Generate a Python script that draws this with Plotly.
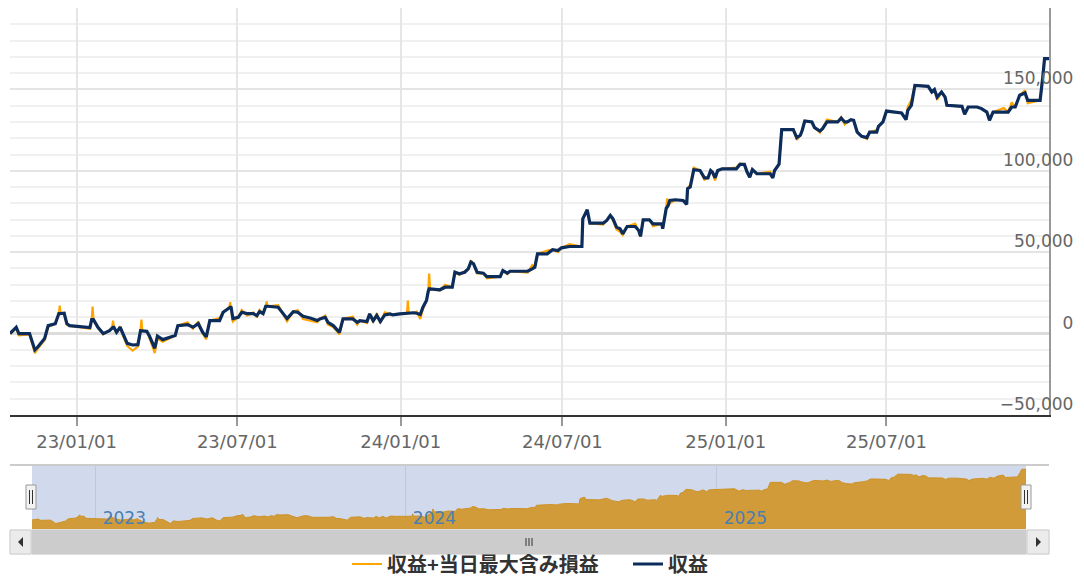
import plotly.graph_objects as go

# The page body adds an 8px margin; the figure is sized so that it fills the window exactly.
OFF = 8
W, H = 1084 - OFF, 578 - OFF

dates = [
    "2022-10-18", "2022-10-25", "2022-10-28", "2022-11-09", "2022-11-15", "2022-11-18", "2022-11-26", "2022-11-30",
    "2022-12-08", "2022-12-12", "2022-12-13", "2022-12-14", "2022-12-18", "2022-12-21", "2022-12-24", "2023-01-16",
    "2023-01-18", "2023-01-19", "2023-01-20", "2023-01-25", "2023-01-31", "2023-02-07", "2023-02-10", "2023-02-11",
    "2023-02-12", "2023-02-15", "2023-02-19", "2023-02-22", "2023-02-27", "2023-03-05", "2023-03-11", "2023-03-14",
    "2023-03-15", "2023-03-16", "2023-03-21", "2023-03-24", "2023-03-30", "2023-04-02", "2023-04-08", "2023-04-16",
    "2023-04-22", "2023-04-25", "2023-05-06", "2023-05-12", "2023-05-18", "2023-05-23", "2023-05-27", "2023-05-31",
    "2023-06-11", "2023-06-15", "2023-06-22", "2023-06-23", "2023-06-24", "2023-06-26", "2023-07-02", "2023-07-06",
    "2023-07-12", "2023-07-19", "2023-07-23", "2023-07-26", "2023-07-30", "2023-08-02", "2023-08-03", "2023-08-04",
    "2023-08-16", "2023-08-20", "2023-08-26", "2023-09-02", "2023-09-07", "2023-09-13", "2023-09-21", "2023-09-29",
    "2023-10-02", "2023-10-08", "2023-10-11", "2023-10-17", "2023-10-24", "2023-10-28", "2023-11-08", "2023-11-13",
    "2023-11-16", "2023-11-24", "2023-11-27", "2023-12-01", "2023-12-05", "2023-12-09", "2023-12-14", "2023-12-20",
    "2023-12-23", "2023-12-31", "2024-01-08", "2024-01-09", "2024-01-10", "2024-01-15", "2024-01-19", "2024-01-23",
    "2024-01-26", "2024-01-30", "2024-02-01", "2024-02-02", "2024-02-03", "2024-02-14", "2024-02-20", "2024-02-28",
    "2024-03-02", "2024-03-07", "2024-03-13", "2024-03-17", "2024-03-20", "2024-03-23", "2024-03-27", "2024-04-03",
    "2024-04-07", "2024-04-22", "2024-04-25", "2024-04-30", "2024-05-03", "2024-05-23", "2024-05-28", "2024-05-31",
    "2024-06-03", "2024-06-14", "2024-06-20", "2024-06-26", "2024-06-30", "2024-07-09", "2024-07-23", "2024-07-24",
    "2024-07-29", "2024-08-01", "2024-08-16", "2024-08-20", "2024-08-24", "2024-08-27", "2024-08-31", "2024-09-04",
    "2024-09-07", "2024-09-12", "2024-09-21", "2024-09-25", "2024-09-27", "2024-09-30", "2024-10-07", "2024-10-11",
    "2024-10-21", "2024-10-22", "2024-10-26", "2024-10-27", "2024-10-28", "2024-10-30", "2024-11-05", "2024-11-14",
    "2024-11-18", "2024-11-19",
    "2024-11-22", "2024-11-26", "2024-12-03", "2024-12-08", "2024-12-12", "2024-12-15", "2024-12-17", "2024-12-20",
    "2024-12-23", "2024-12-28", "2025-01-13", "2025-01-17", "2025-01-22", "2025-01-25", "2025-01-28", "2025-01-31",
    "2025-02-05", "2025-02-20", "2025-02-23", "2025-02-25", "2025-03-02", "2025-03-05", "2025-03-18", "2025-03-22",
    "2025-03-26", "2025-03-28", "2025-03-31", "2025-04-08", "2025-04-11", "2025-04-17", "2025-04-20", "2025-04-25",
    "2025-05-07", "2025-05-11", "2025-05-15", "2025-05-18", "2025-05-22", "2025-05-25", "2025-05-29", "2025-06-03",
    "2025-06-09", "2025-06-12", "2025-06-20", "2025-06-22", "2025-06-27", "2025-07-01", "2025-07-10", "2025-07-18",
    "2025-07-23", "2025-07-25", "2025-07-29", "2025-08-02", "2025-08-17", "2025-08-21", "2025-08-24", "2025-08-27",
    "2025-09-01", "2025-09-05", "2025-09-07", "2025-09-24", "2025-09-27", "2025-10-01", "2025-10-11", "2025-10-16",
    "2025-10-22", "2025-10-25", "2025-10-29", "2025-11-10", "2025-11-15", "2025-11-19", "2025-11-23", "2025-11-28",
    "2025-12-04", "2025-12-07", "2025-12-21", "2025-12-24", "2025-12-26", "2025-12-31",
]

# 収益 (realized P/L)
profit = [
    0, 3900, 0, 0, -10000, -8400, -3000, 4900,
    6100, 12300, 12300, 12400, 12500, 6100, 4900, 3700,
    8600, 8600, 8600, 3900, 0, 1800, 3900, 3900,
    3900, 800, 3900, 0, -6000, -7000, -6800, 1800,
    1800, 1600, 1400, -1500, -9000, -1500, -3700, -2300,
    -1200, 4900, 5500, 3900, 6100, 800, -2000, 8000,
    8000, 13100, 16200, 16200, 16000, 9200, 10000, 13100,
    12300, 12300, 11100, 13500, 12300, 16800, 16800, 16800,
    16200, 13100, 9200, 13500, 13100, 10600, 9600, 8000,
    9000, 10000, 6900, 4900, 800, 9000, 9000, 6900,
    8000, 7400, 12100, 8000, 11100, 7400, 11500, 12100,
    11500, 12100, 12500, 12500, 12500, 12800, 12500, 11700,
    16200, 20300, 26000, 27500, 27500, 26900, 28500, 28500,
    37700, 36700, 37700, 39800, 43900, 42900, 37700, 37100,
    35000, 35000, 38700, 37100, 38300, 38300, 39800, 40800,
    49000, 49000, 51500, 51000, 52700, 53500, 53500, 70500,
    76100, 67800, 67800, 69500, 72600, 70500, 65400, 64400,
    61300, 65800, 65800, 63300, 59700, 69900, 69900, 67400,
    67400, 64400, 77000, 77700, 78500, 81800, 82200, 81800,
    79300, 89000,
    90000, 100700, 100200, 95700, 95700, 100200, 99200, 95700,
    100200, 101200, 101200, 103900, 103900, 99200, 96100, 100700,
    98200, 98200, 95700, 100200, 104000, 125300, 125300, 120400,
    121800, 124800, 130600, 130000, 126500, 124400, 125900, 130000,
    130000, 132400, 130000, 130000, 131400, 131000, 123800, 121200,
    120400, 123800, 123800, 127300, 130000, 136700, 136100, 135500,
    131400, 137100, 140200, 152500, 151900, 148400, 149900, 145300,
    148400, 145300, 140200, 139600, 134700, 139200, 139200, 138200,
    136100, 131000, 136100, 136100, 136100, 139200, 139200, 146400,
    147800, 143300, 143300, 157600, 168900, 168900,
]

# 収益+当日最大含み損益 (profit incl. max intraday unrealized P/L)
profit_plus = [
    0, 3000, -1000, -500, -12000, -9500, -4000, 4000,
    6100, 12300, 17200, 12400, 12500, 5500, 4900, 3000,
    8600, 16600, 8600, 3500, -500, 1800, 3900, 8000,
    3900, 0, 4500, -1000, -7500, -10500, -8000, 1800,
    8600, 1600, 1400, -2500, -12000, -3000, -5000, -3000,
    -1200, 4900, 7000, 3000, 7500, 0, -3500, 8000,
    9500, 13100, 16200, 19300, 16000, 7500, 10000, 14500,
    11000, 13000, 10000, 14500, 12300, 16800, 19700, 16800,
    17500, 13100, 7500, 13500, 14500, 9000, 8000, 7000,
    9000, 11000, 5500, 4000, -500, 9000, 10500, 5500,
    8000, 6500, 12100, 7000, 12500, 6500, 13000, 12100,
    11500, 12100, 12500, 20300, 12500, 12800, 13500, 9000,
    15000, 20300, 26000, 36900, 27500, 26500, 30000, 28500,
    37700, 36000, 38500, 39800, 45000, 42900, 37000, 37100,
    34000, 35000, 38700, 36500, 38300, 37500, 42000, 40800,
    49000, 51000, 51500, 50000, 52700, 55000, 53500, 70500,
    76100, 67800, 67000, 69500, 72600, 69500, 64000, 62500,
    60500, 65800, 67500, 63300, 59700, 69900, 69900, 66000,
    67400, 64400, 77000, 83000, 78500, 80000, 82200, 81800,
    79300, 89000,
    91500, 102000, 100200, 94500, 95700, 100200, 99200, 94000,
    100200, 101200, 102000, 104500, 103900, 99200, 96100, 100700,
    98200, 99500, 95700, 100200, 104000, 125300, 125300, 119000,
    121800, 124800, 130600, 130000, 126500, 123500, 125900, 131500,
    130000, 133000, 128500, 130000, 131400, 131000, 123800, 121200,
    119500, 123800, 125000, 127300, 130000, 136700, 136100, 135500,
    131400, 139500, 143300, 152500, 151900, 148400, 149900, 143500,
    148400, 145300, 140200, 139600, 134700, 139200, 139200, 138200,
    136100, 131000, 136100, 138500, 136100, 142000, 139200, 146400,
    149400, 141500, 143300, 157600, 168900, 168900,
]

assert len(dates) == len(profit) == len(profit_plus)

series_names = ["収益+当日最大含み損益", "収益"]
main_ticks_format = "%y/%m/%d"
nav_years = ["2023-01-01", "2024-01-01", "2025-01-01"]

X_START, X_END = "2022-10-18", "2025-12-31"
NAV_FLOOR = -30000
NAV_CEIL = 183000

ORANGE = "#FFA500"
NAVY = "#0c2d5c"


def px(x):
    """window pixel x -> paper fraction"""
    return (x - OFF) / W


def py(y):
    """window pixel y (from top) -> paper fraction"""
    return 1 - (y - OFF) / H


fig = go.Figure()

# navigator baseline + area (first series)
fig.add_trace(go.Scatter(x=[X_START, X_END], y=[NAV_FLOOR, NAV_FLOOR], mode="lines",
                         line=dict(width=0, color="rgba(0,0,0,0)"), showlegend=False,
                         hoverinfo="skip", xaxis="x2", yaxis="y3"))
fig.add_trace(go.Scatter(x=dates, y=profit_plus, mode="lines", fill="tonexty",
                         fillcolor="rgb(209,155,58)", line=dict(width=1, color="rgb(206,146,38)"),
                         showlegend=False, hoverinfo="skip", xaxis="x2", yaxis="y3"))

# main series
fig.add_trace(go.Scatter(x=dates, y=profit_plus, mode="lines", name=series_names[0],
                         line=dict(color=ORANGE, width=2.2), xaxis="x", yaxis="y"))
fig.add_trace(go.Scatter(x=dates, y=profit, mode="lines", name=series_names[1],
                         line=dict(color=NAVY, width=3.2), xaxis="x", yaxis="y"))

tick_font = dict(family="DejaVu Sans", size=17, color="#666666")

fig.update_layout(
    width=W, height=H,
    margin=dict(l=0, r=0, t=0, b=0, autoexpand=False),
    paper_bgcolor="white", plot_bgcolor="white",
    showlegend=True,
    legend=dict(orientation="h", x=px(347), xanchor="left", y=py(564), yanchor="middle",
                font=dict(family="Noto Sans CJK JP", size=20, color="#333333", weight="bold"),
                itemwidth=30, entrywidth=236, entrywidthmode="pixels",
                bgcolor="rgba(0,0,0,0)", traceorder="normal"),
    xaxis=dict(
        domain=[px(10), px(1049)], type="date", range=[X_START, X_END],
        tick0="2023-01-01", dtick="M6", tickformat=main_ticks_format,
        showgrid=True, gridcolor="#e6e6e6", gridwidth=2,
        ticks="outside", ticklen=9, tickwidth=1.5, tickcolor="#999999",
        showline=True, linecolor="#333333", linewidth=2,
        tickfont=dict(family="DejaVu Sans", size=18, color="#666666"),
        anchor="y", zeroline=False, fixedrange=True,
    ),
    yaxis=dict(
        domain=[py(415), py(8)], range=[-50000, 200000], dtick=50000, tick0=0,
        side="right", tickformat=",", ticklabelposition="inside",
        ticklabelstandoff=-24, ticklabelshift=-11,
        showgrid=True, gridcolor="#e4e4e4", gridwidth=2,
        minor=dict(dtick=10000, showgrid=True, gridcolor="#f0f0f0", gridwidth=2),
        zeroline=True, zerolinecolor="#dcdcdc", zerolinewidth=3,
        showline=True, linecolor="#999999", linewidth=2,
        ticks="", tickfont=tick_font, anchor="x", fixedrange=True,
    ),
    xaxis2=dict(
        domain=[px(32), px(1026)], type="date", range=[X_START, X_END],
        tickvals=nav_years, tickformat="%Y", ticklabelposition="inside right",
        ticklabelstandoff=-4, ticklabelshift=7,
        showgrid=True, gridcolor="rgb(190,200,220)", gridwidth=1,
        ticks="", showline=False, zeroline=False,
        tickfont=dict(family="DejaVu Sans", size=17, color="#4a7fb0"),
        anchor="y3", fixedrange=True,
    ),
    yaxis3=dict(
        domain=[py(529), py(465)], range=[NAV_FLOOR, NAV_CEIL],
        showgrid=False, showticklabels=False, zeroline=False, showline=False,
        anchor="x2", fixedrange=True,
    ),
)

shapes = []
# navigator mask (selected range = whole range)
shapes.append(dict(type="rect", xref="paper", yref="paper", x0=px(32), x1=px(1026),
                   y0=py(529), y1=py(465), fillcolor="rgb(209,218,237)", line=dict(width=0),
                   layer="below"))
# navigator outline on top
shapes.append(dict(type="line", xref="paper", yref="paper", x0=px(10), x1=px(1049),
                   y0=py(465), y1=py(465), line=dict(color="#cccccc", width=2)))
# scrollbar track/thumb
shapes.append(dict(type="rect", xref="paper", yref="paper", x0=px(10), x1=px(1049),
                   y0=py(554), y1=py(530), fillcolor="#f2f2f2", line=dict(color="#e6e6e6", width=1)))
shapes.append(dict(type="rect", xref="paper", yref="paper", x0=px(32), x1=px(1026),
                   y0=py(554), y1=py(530), fillcolor="#cccccc", line=dict(color="#cccccc", width=1)))
# scrollbar buttons
for bx0, bx1 in [(10, 31), (1027, 1049)]:
    shapes.append(dict(type="rect", xref="paper", yref="paper", x0=px(bx0), x1=px(bx1),
                       y0=py(554), y1=py(530), fillcolor="#ebebeb", line=dict(color="#cccccc", width=1)))
# arrows
shapes.append(dict(type="path", xref="paper", yref="paper",
                   path=f"M {px(23)} {py(537)} L {px(23)} {py(547)} L {px(18)} {py(542)} Z",
                   fillcolor="#333333", line=dict(width=0)))
shapes.append(dict(type="path", xref="paper", yref="paper",
                   path=f"M {px(1036)} {py(537)} L {px(1036)} {py(547)} L {px(1041)} {py(542)} Z",
                   fillcolor="#333333", line=dict(width=0)))
# scrollbar grip
for gx in (526, 529, 532):
    shapes.append(dict(type="line", xref="paper", yref="paper", x0=px(gx), x1=px(gx),
                       y0=py(538), y1=py(546), line=dict(color="#333333", width=1)))
# navigator handles
for hx in (31, 1026):
    shapes.append(dict(type="rect", xref="paper", yref="paper", x0=px(hx - 5), x1=px(hx + 5),
                       y0=py(509), y1=py(485), fillcolor="#f2f2f2", line=dict(color="#999999", width=1)))
    for gx in (hx - 1.5, hx + 1.5):
        shapes.append(dict(type="line", xref="paper", yref="paper", x0=px(gx), x1=px(gx),
                           y0=py(490), y1=py(504), line=dict(color="#333333", width=1)))

fig.update_layout(shapes=shapes)

fig.write_html("out.html")
